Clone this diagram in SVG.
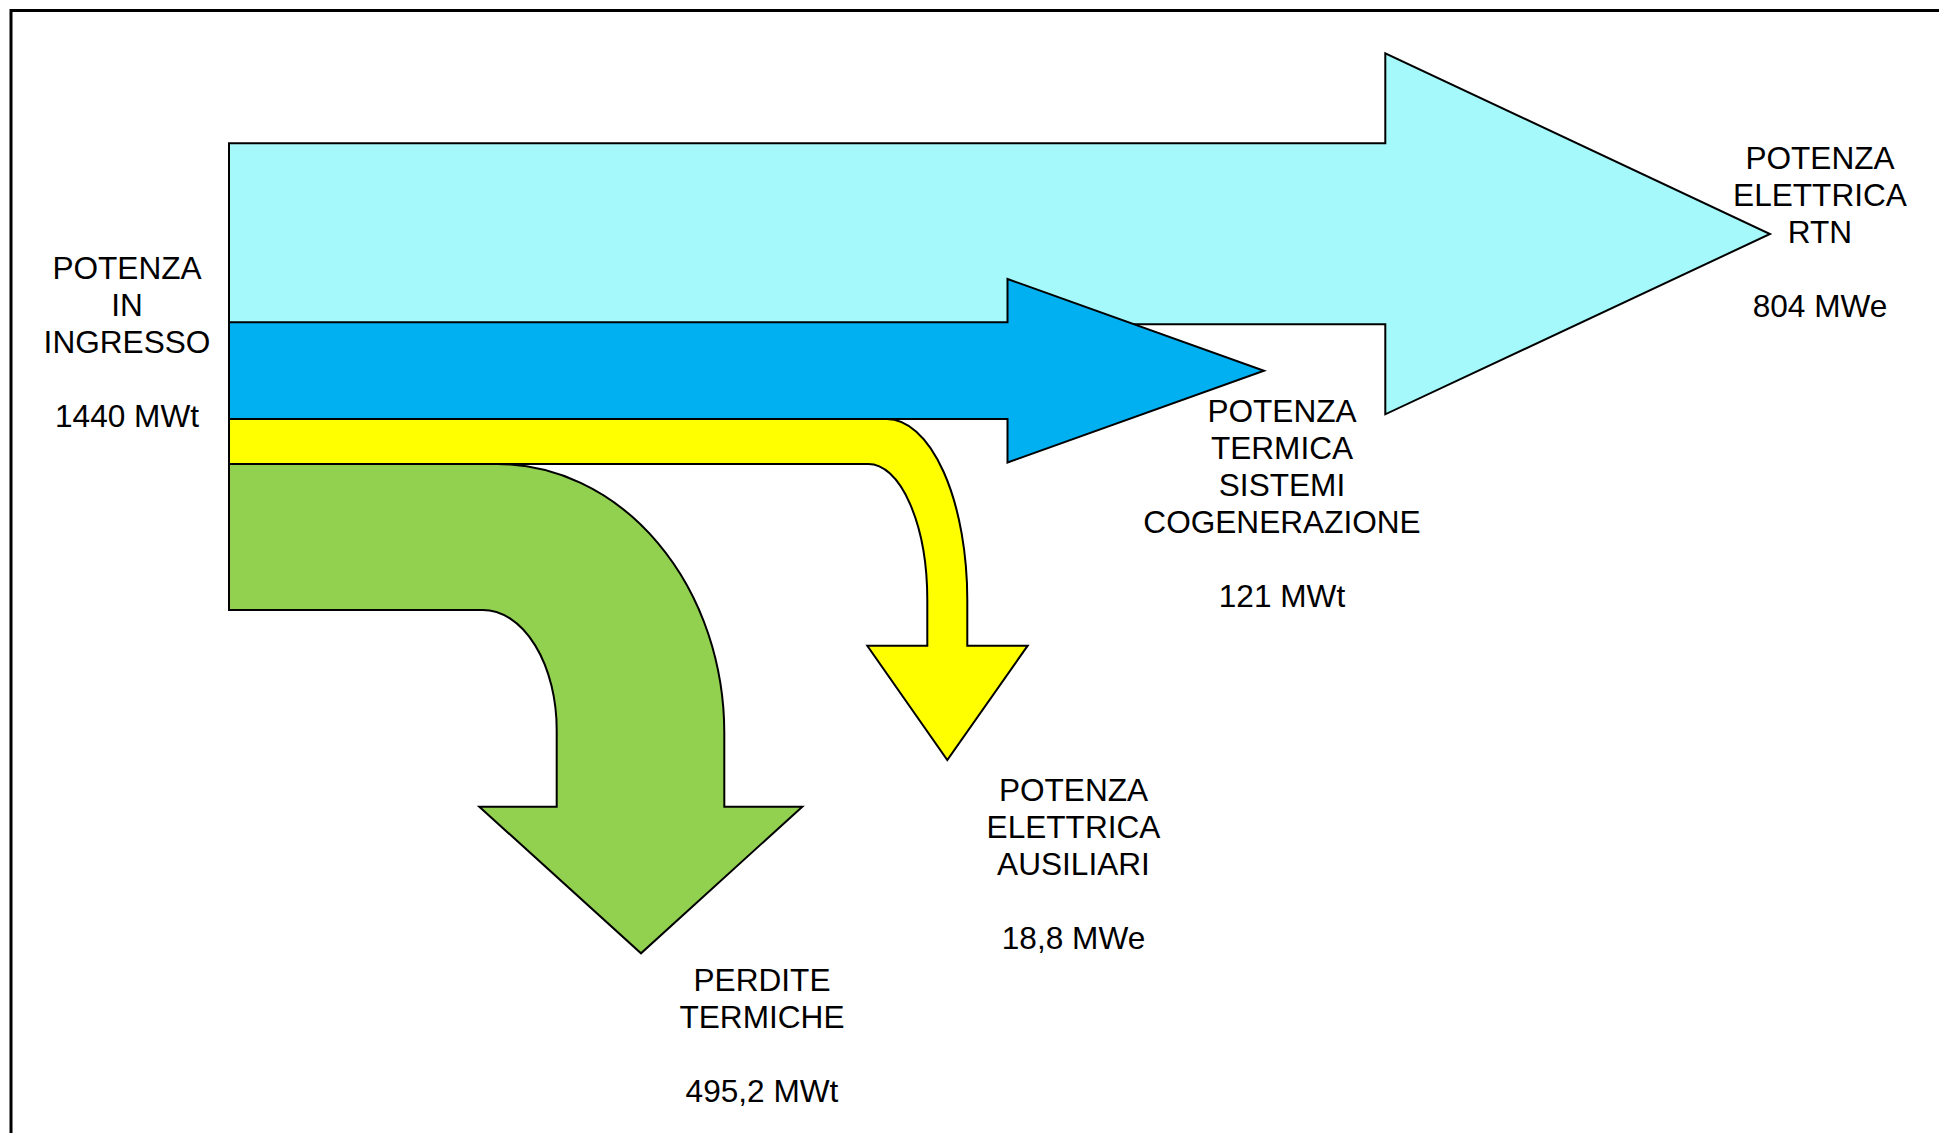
<svg xmlns="http://www.w3.org/2000/svg" width="1939" height="1133" viewBox="0 0 1939 1133">
<style>
.fl{stroke:#000;stroke-width:2;stroke-linejoin:miter}
.t{font-family:"Liberation Sans",Arial,sans-serif;font-size:31.6px;fill:#000;text-anchor:middle}
</style>
<rect width="1939" height="1133" fill="#fff"/>
<path d="M11,1135 V10.5 H1941" fill="none" stroke="#000" stroke-width="3"/>
<g id="flows">
<g id="rtn">
<path class="fl" fill="#A6F9FA" d="M229,143.3 H1385.3 V53.3 L1770,234 L1385.3,414.3 V324.3 H229 Z"/>
</g>
<g id="cogen">
<path class="fl" fill="#00B0F0" d="M229,322.3 H1007.5 V279 L1264,370.7 L1007.5,462.5 V419 H229 Z"/>
</g>
<g id="ausiliari">
<path class="fl" fill="#FFFF00" d="M229,419 H886.7 A80.6,181 0 0 1 967.3,600 V645.7 H1027.7 L947.3,760 L867.3,645.7 H927.3 V600 A59,136 0 0 0 868.3,464 H229 Z"/>
</g>
<g id="perdite">
<path class="fl" fill="#92D050" d="M229,464 H497 A227.3,269 0 0 1 724.3,733 V806.7 H802.3 L641,953.3 L479.3,806.7 H556.7 V730 A74,120 0 0 0 482.7,610 H229 Z"/>
</g>
</g>
<g id="label-ingresso">
<text class="t" x="127" y="279">POTENZA</text>
<text class="t" x="127" y="316">IN</text>
<text class="t" x="127" y="353">INGRESSO</text>
<text class="t" x="127" y="427">1440 MWt</text>
</g>
<g id="label-rtn">
<text class="t" x="1820" y="169">POTENZA</text>
<text class="t" x="1820" y="206">ELETTRICA</text>
<text class="t" x="1820" y="243">RTN</text>
<text class="t" x="1820" y="317">804 MWe</text>
</g>
<g id="label-cogen">
<text class="t" x="1282" y="421.7">POTENZA</text>
<text class="t" x="1282" y="458.7">TERMICA</text>
<text class="t" x="1282" y="495.7">SISTEMI</text>
<text class="t" x="1282" y="532.7">COGENERAZIONE</text>
<text class="t" x="1282" y="606.7">121 MWt</text>
</g>
<g id="label-ausiliari">
<text class="t" x="1073.5" y="801">POTENZA</text>
<text class="t" x="1073.5" y="838">ELETTRICA</text>
<text class="t" x="1073.5" y="875">AUSILIARI</text>
<text class="t" x="1073.5" y="949">18,8 MWe</text>
</g>
<g id="label-perdite">
<text class="t" x="762" y="990.7">PERDITE</text>
<text class="t" x="762" y="1027.5">TERMICHE</text>
<text class="t" x="762" y="1101.7">495,2 MWt</text>
</g>
</svg>
